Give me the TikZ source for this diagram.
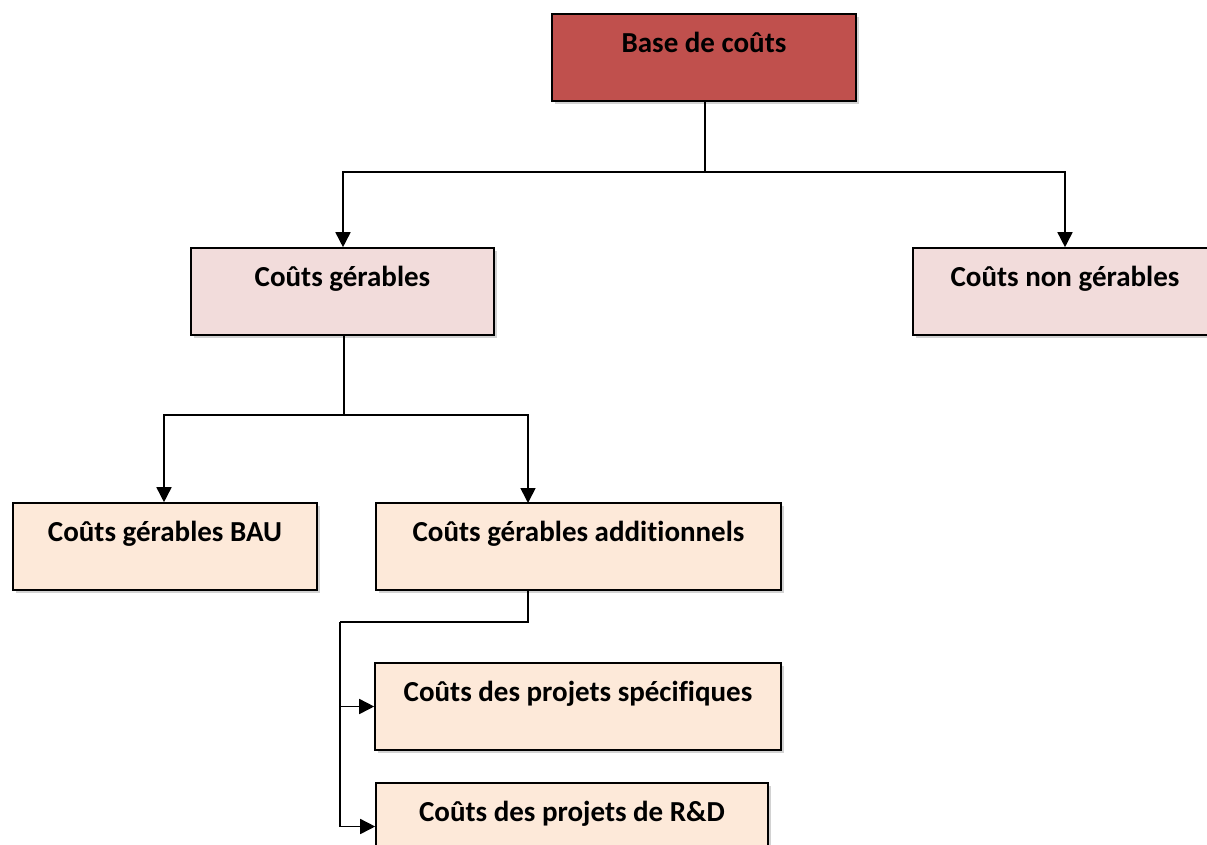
\documentclass[tikz,border=0pt]{standalone}
\usepackage{fontspec}
\setmainfont{Carlito}[Ligatures=NoCommon]
\usetikzlibrary{arrows.meta,shadows,calc}
\definecolor{baseRed}{HTML}{C0504D}
\definecolor{pinkFill}{HTML}{F2DCDB}
\definecolor{peachFill}{HTML}{FDE9D9}
\begin{document}
\begin{tikzpicture}[x=1pt,y=-1pt,
  boxnode/.style={draw=black,line width=1.6pt,inner xsep=0pt,inner ysep=0pt,
    minimum height=87pt,text height=38pt,text depth=49pt,
    font=\bfseries\fontsize{29}{32}\selectfont,
    drop shadow={shadow xshift=3pt,shadow yshift=-3pt,fill=black!35,opacity=0.5}},
  conn/.style={line width=1.6pt,draw=black},
  arr/.style={conn,-{Triangle[width=15pt,length=15pt]}}]
\useasboundingbox (0,0) rectangle (1207,844);
\clip (0,0) rectangle (1207,844);
\node[boxnode,fill=baseRed,minimum width=304pt] (base) at (704,57.5) {Base de coûts};
\node[boxnode,fill=pinkFill,minimum width=303pt] (ger) at (342.5,291.5) {Coûts gérables};
\node[boxnode,fill=pinkFill,minimum width=304pt] (nonger) at (1065,291.5) {Coûts non gérables};
\node[boxnode,fill=peachFill,minimum width=304pt] (bau) at (165,546.5) {Coûts gérables BAU};
\node[boxnode,fill=peachFill,minimum width=405pt] (add) at (578.5,546.5) {Coûts gérables additionnels};
\node[boxnode,fill=peachFill,minimum width=406pt] (spec) at (578,706.5) {Coûts des projets spécifiques};
\node[boxnode,fill=peachFill,minimum width=392pt] (rd) at (572,826.5) {Coûts des projets de R\&D};
\coordinate (j1) at (705,172);
\coordinate (j2) at (344,415);
\coordinate (j3) at (340,622);
\coordinate (addS) at (528,590);
\coordinate (addN) at (528,503);
\draw[conn] (base.south -| j1) -- (j1);
\draw[arr] (j1) -| (ger.north -| 343,0);
\draw[arr] (j1) -| (nonger.north);
\draw[conn] (ger.south -| j2) -- (j2);
\draw[arr] (j2) -| (bau.north -| 164,0);
\draw[arr] (j2) -| (addN);
\draw[conn] (addS) |- (j3);
\draw[conn] (j3) -- (j3 |- rd.west);
\draw[arr] (j3) |- (spec.west);
\draw[arr] (j3) |- (rd.west);
\end{tikzpicture}
\end{document}
